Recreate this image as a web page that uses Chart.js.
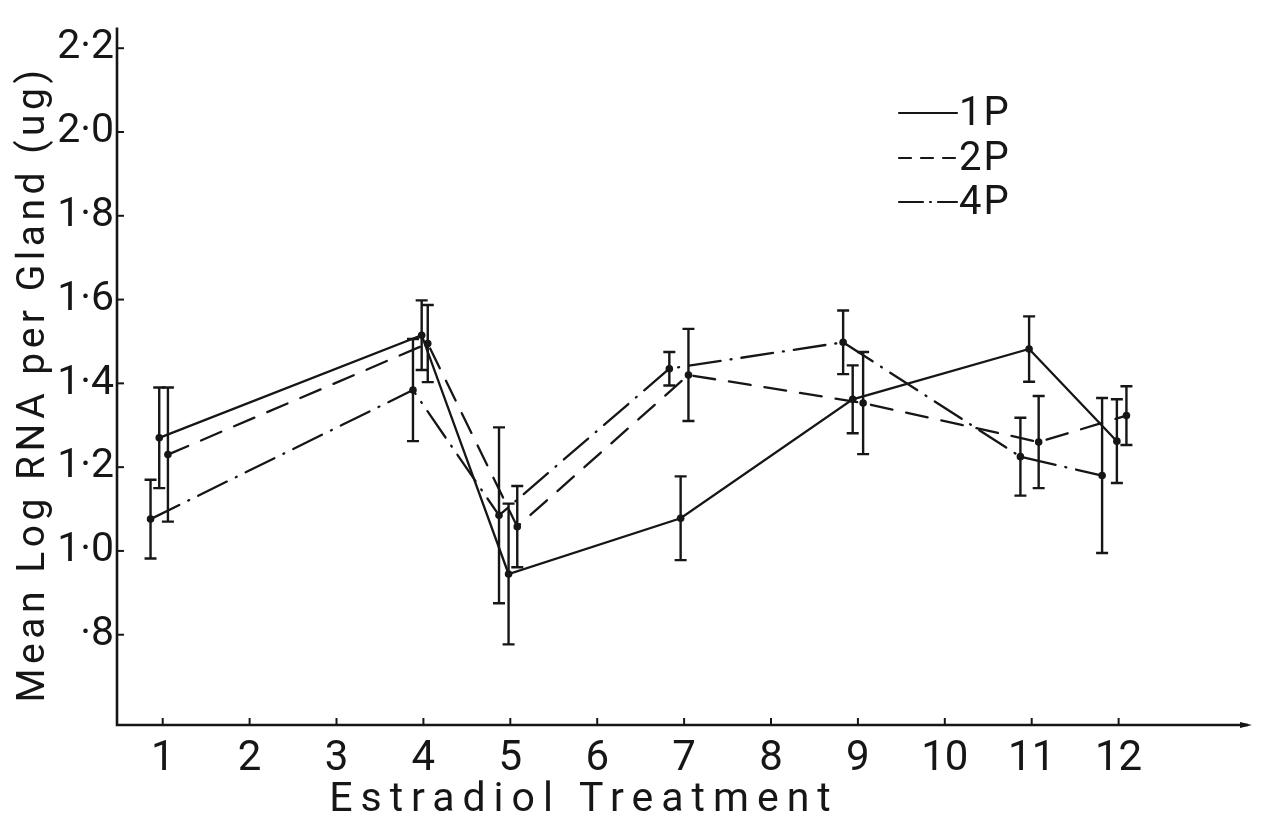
<!DOCTYPE html>
<html>
<head>
<meta charset="utf-8">
<script src="https://cdn.jsdelivr.net/npm/chart.js@4.4.1/dist/chart.umd.min.js"></script>
<style>
  html, body { margin: 0; padding: 0; background: #fff; }
  #wrap { width: 1267px; height: 815px; }
</style>
</head>
<body>
<div id="wrap"><canvas id="myChart" width="1267" height="815"></canvas></div>
<script>
// tick marks on the axes
const xTickValues = [1, 2, 3, 4, 5, 6, 7, 8, 9, 10, 11, 12];
const yTickValues = [0.8, 1.0, 1.2, 1.4, 1.6, 1.8, 2.0, 2.2];
const yTickLabels = ['·8', '1·0', '1·2', '1·4', '1·6', '1·8', '2·0', '2·2'];

// treatments where measurements exist (points are drawn slightly off the tick, as in the figure)
const x1P = [0.96, 3.98, 4.98, 6.96, 8.94, 10.97, 11.98];
const x2P = [1.06, 4.05, 5.08, 7.05, 9.06, 11.08, 12.09];
const x4P = [0.86, 3.88, 4.87, 6.83, 8.83, 10.87, 11.81];

// mean log RNA per gland
const mean1P = [1.27, 1.515, 0.945, 1.078, 1.362, 1.482, 1.262];
const mean2P = [1.23, 1.495, 1.058, 1.42, 1.353, 1.26, 1.323];
const mean4P = [1.076, 1.384, 1.085, 1.435, 1.498, 1.225, 1.18];

// half length of the error bars
const err1P = [0.12, 0.083, 0.168, 0.10, 0.081, 0.078, 0.10];
const err2P = [0.16, 0.092, 0.097, 0.11, 0.122, 0.11, 0.07];
const err4P = [0.094, 0.122, 0.21, 0.04, 0.076, 0.093, 0.185];

const seriesNames = ['1P', '2P', '4P'];
const xTitle = 'Estradiol Treatment';
const yTitle = 'Mean Log RNA per Gland (ug)';

const INK = '#161616';
const FONT = 'Roboto';

const makeSet = (label, xs, ys, errs, dash) => ({
    label: label,
    data: xs.map((x, i) => ({ x: x, y: ys[i] })),
    errs: errs,
    borderColor: INK,
    backgroundColor: INK,
    borderWidth: 2.3,
    borderDash: dash,
    borderCapStyle: 'round',
    pointRadius: 3.8,
    pointBorderWidth: 0,
    pointBackgroundColor: INK,
    tension: 0,
    fill: false
});

// error bars with caps
const errorBars = {
    id: 'errorBars',
    afterDatasetsDraw(chart) {
        const ctx = chart.ctx;
        const y = chart.scales.y;
        ctx.save();
        ctx.strokeStyle = INK;
        ctx.lineWidth = 2.4;
        ctx.setLineDash([]);
        chart.data.datasets.forEach((ds, i) => {
            const meta = chart.getDatasetMeta(i);
            ds.data.forEach((p, j) => {
                const px = meta.data[j].x;
                const top = y.getPixelForValue(p.y + ds.errs[j]);
                const bot = y.getPixelForValue(p.y - ds.errs[j]);
                ctx.beginPath();
                ctx.moveTo(px, top); ctx.lineTo(px, bot);
                ctx.moveTo(px - 6, top); ctx.lineTo(px + 6, top);
                ctx.moveTo(px - 6, bot); ctx.lineTo(px + 6, bot);
                ctx.stroke();
            });
        });
        ctx.restore();
    }
};

// axes lines, inward ticks, arrow, titles and legend
const decorations = {
    id: 'decorations',
    afterDraw(chart) {
        const ctx = chart.ctx;
        const a = chart.chartArea;
        const xs = chart.scales.x, ys = chart.scales.y;
        ctx.save();
        ctx.strokeStyle = INK;
        ctx.fillStyle = INK;
        ctx.lineWidth = 2.6;
        ctx.setLineDash([]);
        ctx.beginPath();
        ctx.moveTo(a.left, a.top);
        ctx.lineTo(a.left, a.bottom);
        ctx.lineTo(a.right - 4, a.bottom);
        ctx.stroke();
        // arrow head
        ctx.beginPath();
        ctx.moveTo(a.right, a.bottom);
        ctx.lineTo(a.right - 12, a.bottom - 3);
        ctx.lineTo(a.right - 12, a.bottom + 3);
        ctx.closePath();
        ctx.fill();

        ctx.lineWidth = 2;
        xTickValues.forEach(v => {
            const px = xs.getPixelForValue(v);
            ctx.beginPath();
            ctx.moveTo(px, a.bottom); ctx.lineTo(px, a.bottom - 7);
            ctx.stroke();
        });
        yTickValues.forEach(v => {
            const py = ys.getPixelForValue(v);
            ctx.beginPath();
            ctx.moveTo(a.left, py); ctx.lineTo(a.left + 7, py);
            ctx.stroke();
        });

        // axis titles
        ctx.font = '41px ' + FONT;
        ctx.letterSpacing = '8px';
        ctx.textAlign = 'center';
        ctx.textBaseline = 'alphabetic';
        ctx.fillText(xTitle, 584, 811);
        ctx.save();
        ctx.translate(44, 384);
        ctx.rotate(-Math.PI / 2);
        ctx.font = '39px ' + FONT;
        ctx.letterSpacing = '4.5px';
        ctx.fillText(yTitle, 0, 0);
        ctx.restore();

        // legend
        ctx.letterSpacing = '2px';
        ctx.font = '40px ' + FONT;
        ctx.textAlign = 'left';
        ctx.textBaseline = 'middle';
        const rows = [113, 158, 202];
        const dashes = [[], [12, 10], [24, 7, 1, 7]];
        chart.data.datasets.forEach((ds, i) => {
            ctx.lineWidth = 2.2;
            ctx.lineCap = 'round';
            ctx.setLineDash(dashes[i]);
            ctx.beginPath();
            ctx.moveTo(899, rows[i]); ctx.lineTo(957, rows[i]);
            ctx.stroke();
            ctx.setLineDash([]);
            ctx.fillText(seriesNames[i], 959, rows[i] + 2);
        });
        ctx.restore();
    }
};

const config = {
    type: 'line',
    data: {
        datasets: [
            makeSet(seriesNames[0], x1P, mean1P, err1P, []),
            makeSet(seriesNames[1], x2P, mean2P, err2P, [22, 14]),
            makeSet(seriesNames[2], x4P, mean4P, err4P, [32, 10, 1, 10])
        ]
    },
    options: {
        responsive: false,
        animation: false,
        devicePixelRatio: 1,
        layout: { padding: { left: 0, top: 15, right: 15, bottom: 0 } },
        plugins: { legend: { display: false }, tooltip: { enabled: false }, title: { display: false } },
        scales: {
            x: {
                type: 'linear',
                min: 0.474,
                max: 13.535,
                afterBuildTicks: (s) => { s.ticks = xTickValues.map(v => ({ value: v })); },
                afterFit: (s) => { s.height = 90; },
                grid: { display: false, drawTicks: false },
                border: { display: false },
                ticks: {
                    color: INK,
                    font: { family: FONT, size: 42 },
                    padding: 9,
                    maxRotation: 0,
                    autoSkip: false,
                    callback: (v) => String(v)
                }
            },
            y: {
                min: 0.5845,
                max: 2.2492,
                afterBuildTicks: (s) => { s.ticks = yTickValues.map(v => ({ value: v })); },
                afterFit: (s) => { s.width = 117; },
                grid: { display: false, drawTicks: false },
                border: { display: false },
                ticks: {
                    color: INK,
                    font: { family: FONT, size: 41 },
                    padding: 3,
                    autoSkip: false,
                    callback: (v) => {
                        const k = yTickValues.findIndex(t => Math.abs(t - v) < 1e-6);
                        return k >= 0 ? yTickLabels[k] : '';
                    }
                }
            }
        }
    },
    plugins: [errorBars, decorations]
};

new Chart(document.getElementById('myChart'), config);
</script>
</body>
</html>
